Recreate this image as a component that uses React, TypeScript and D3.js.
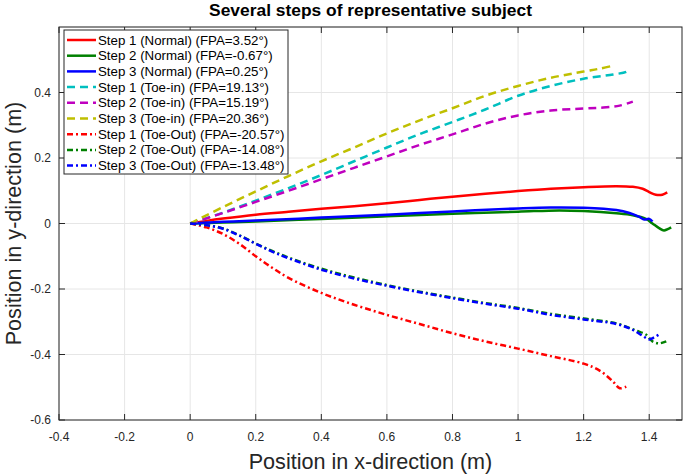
import * as d3 from "d3";

// x / y positions (m), one pair of arrays per step
const n1X = [0, 0.05, 0.1, 0.2, 0.3, 0.4, 0.5, 0.6, 0.7, 0.8, 0.9, 1.0, 1.1, 1.2, 1.3, 1.35, 1.38, 1.4, 1.42, 1.44, 1.455];
const n1Y = [0, 0.008, 0.015, 0.027, 0.036, 0.045, 0.053, 0.062, 0.072, 0.082, 0.091, 0.099, 0.106, 0.111, 0.114, 0.112, 0.106, 0.096, 0.088, 0.088, 0.095];
const n2X = [0, 0.1, 0.2, 0.4, 0.6, 0.8, 1.0, 1.125, 1.2, 1.3, 1.35, 1.39, 1.41, 1.43, 1.445, 1.467];
const n2Y = [0, 0.003, 0.006, 0.014, 0.022, 0.03, 0.036, 0.04, 0.038, 0.031, 0.025, 0.014, 0.0, -0.014, -0.021, -0.012];
const n3X = [0, 0.1, 0.2, 0.4, 0.6, 0.8, 1.0, 1.1, 1.2, 1.3, 1.34, 1.37, 1.385, 1.4, 1.41];
const n3Y = [0, 0.005, 0.009, 0.018, 0.027, 0.037, 0.046, 0.049, 0.048, 0.041, 0.032, 0.02, 0.012, 0.014, 0.006];

const i1X = [0, 0.1, 0.2, 0.3, 0.4, 0.5, 0.6, 0.7, 0.8, 0.9, 1.0, 1.1, 1.2, 1.29, 1.33, 1.34];
const i1Y = [0, 0.033, 0.07, 0.108, 0.148, 0.19, 0.232, 0.273, 0.31, 0.348, 0.39, 0.42, 0.442, 0.455, 0.463, 0.47];
const i2X = [0, 0.1, 0.2, 0.3, 0.4, 0.5, 0.6, 0.7, 0.8, 0.9, 1.0, 1.1, 1.2, 1.26, 1.31, 1.35];
const i2Y = [0, 0.032, 0.066, 0.1, 0.135, 0.17, 0.205, 0.24, 0.272, 0.305, 0.33, 0.345, 0.351, 0.354, 0.36, 0.372];
const i3X = [0, 0.1, 0.2, 0.3, 0.4, 0.5, 0.6, 0.7, 0.8, 0.9, 1.0, 1.1, 1.2, 1.25, 1.29];
const i3Y = [0, 0.05, 0.098, 0.145, 0.19, 0.232, 0.275, 0.315, 0.352, 0.39, 0.42, 0.445, 0.464, 0.473, 0.482];

const o1X = [0, 0.05, 0.1, 0.15, 0.2, 0.25, 0.3, 0.4, 0.5, 0.6, 0.7, 0.8, 0.9, 1.0, 1.1, 1.2, 1.25, 1.29, 1.31, 1.33];
const o1Y = [0, -0.012, -0.032, -0.062, -0.1, -0.135, -0.166, -0.212, -0.248, -0.279, -0.307, -0.335, -0.36, -0.382, -0.405, -0.428, -0.45, -0.483, -0.503, -0.498];
const o2X = [0, 0.05, 0.1, 0.15, 0.2, 0.25, 0.3, 0.4, 0.5, 0.6, 0.7, 0.8, 0.9, 1.0, 1.1, 1.2, 1.3, 1.36, 1.39, 1.41, 1.43, 1.452];
const o2Y = [0, -0.005, -0.015, -0.036, -0.061, -0.084, -0.104, -0.138, -0.165, -0.188, -0.208, -0.226, -0.243, -0.258, -0.276, -0.29, -0.305, -0.327, -0.339, -0.36, -0.366, -0.36];
const o3X = [0, 0.05, 0.1, 0.15, 0.2, 0.25, 0.3, 0.4, 0.5, 0.6, 0.7, 0.8, 0.9, 1.0, 1.1, 1.2, 1.3, 1.35, 1.38, 1.4, 1.415, 1.43];
const o3Y = [0, -0.005, -0.016, -0.037, -0.062, -0.086, -0.106, -0.141, -0.168, -0.19, -0.21, -0.228, -0.245, -0.26, -0.279, -0.293, -0.307, -0.325, -0.343, -0.354, -0.348, -0.339];

const labels = [
  "Step 1 (Normal) (FPA=3.52°)",
  "Step 2 (Normal) (FPA=-0.67°)",
  "Step 3 (Normal) (FPA=0.25°)",
  "Step 1 (Toe-in) (FPA=19.13°)",
  "Step 2 (Toe-in) (FPA=15.19°)",
  "Step 3 (Toe-in) (FPA=20.36°)",
  "Step 1 (Toe-Out) (FPA=-20.57°)",
  "Step 2 (Toe-Out) (FPA=-14.08°)",
  "Step 3 (Toe-Out) (FPA=-13.48°)",
];
const xTicks = [-0.4, -0.2, 0, 0.2, 0.4, 0.6, 0.8, 1, 1.2, 1.4];
const yTicks = [-0.6, -0.4, -0.2, 0, 0.2, 0.4];

const colors = ["#ff0000", "#008000", "#0000ff", "#00bfbf", "#bf00bf", "#bfbf00", "#ff0000", "#008000", "#0000ff"];
const dashes = ["none", "none", "none", "8,5", "8,5", "8,5", "6,3,2,3", "6,3,2,3", "6,3,2,3"];

const series = [
  [n1X, n1Y], [n2X, n2Y], [n3X, n3Y],
  [i1X, i1Y], [i2X, i2Y], [i3X, i3Y],
  [o1X, o1Y], [o2X, o2Y], [o3X, o3Y],
];

const W = 685;
const H = 474;
const m = { left: 59, right: 3, top: 27, bottom: 54 };
const font = "'Liberation Sans', Arial, Helvetica, sans-serif";

export default function App() {
  const x = d3.scaleLinear().domain([-0.4, 1.5]).range([m.left, W - m.right]);
  const y = d3.scaleLinear().domain([-0.6, 0.6]).range([H - m.bottom, m.top]);

  const line = d3
    .line<[number, number]>()
    .x((d) => x(d[0]))
    .y((d) => y(d[1]))
    .curve(d3.curveCatmullRom);

  const x0 = m.left;
  const x1 = W - m.right;
  const y0 = H - m.bottom;
  const y1 = m.top;
  const tickLen = 6;

  const legX = 64;
  const legY = 30;
  const rowH = 15.7;

  return (
    <svg
      width={W}
      height={H}
      style={{ position: "absolute", left: 0, top: 0, background: "#fff" }}
      fontFamily={font}
    >
      {/* grid */}
      {xTicks.map((t) => (
        <line key={"gx" + t} x1={x(t)} x2={x(t)} y1={y0} y2={y1} stroke="#e6e6e6" strokeWidth={1} />
      ))}
      {[...yTicks, 0.6].map((t) => (
        <line key={"gy" + t} x1={x0} x2={x1} y1={y(t)} y2={y(t)} stroke="#e6e6e6" strokeWidth={1} />
      ))}

      {/* series */}
      {series.map(([xs, ys], i) => (
        <path
          key={i}
          d={line(xs.map((v, j) => [v, ys[j]] as [number, number])) ?? ""}
          fill="none"
          stroke={colors[i]}
          strokeWidth={2.5}
          strokeDasharray={dashes[i]}
        />
      ))}

      {/* box and ticks */}
      <rect x={x0} y={y1} width={x1 - x0} height={y0 - y1} fill="none" stroke="#262626" strokeWidth={1} />
      {xTicks.map((t) => (
        <g key={"tx" + t}>
          <line x1={x(t)} x2={x(t)} y1={y0} y2={y0 - tickLen} stroke="#262626" />
          <line x1={x(t)} x2={x(t)} y1={y1} y2={y1 + tickLen} stroke="#262626" />
          <text x={x(t)} y={y0 + 21} textAnchor="middle" fontSize={12} fill="#262626">
            {t}
          </text>
        </g>
      ))}
      {yTicks.map((t) => (
        <g key={"ty" + t}>
          <line x1={x0} x2={x0 + tickLen} y1={y(t)} y2={y(t)} stroke="#262626" />
          <line x1={x1} x2={x1 - tickLen} y1={y(t)} y2={y(t)} stroke="#262626" />
          <text x={x0 - 8} y={y(t) + 4} textAnchor="end" fontSize={12} fill="#262626">
            {t}
          </text>
        </g>
      ))}

      {/* titles */}
      <text x={(x0 + x1) / 2} y={16} textAnchor="middle" fontSize={17.4} fontWeight="bold" fill="#000">
        Several steps of representative subject
      </text>
      <text x={(x0 + x1) / 2} y={469} textAnchor="middle" fontSize={21.6} fill="#262626">
        Position in x-direction (m)
      </text>
      <text
        transform={`translate(21, ${(y0 + y1) / 2}) rotate(-90)`}
        textAnchor="middle"
        fontSize={21.6}
        fill="#262626"
      >
        Position in y-direction (m)
      </text>

      {/* legend */}
      <rect x={legX} y={legY} width={224} height={144} fill="#fff" stroke="#262626" strokeWidth={1} />
      {labels.map((l, i) => {
        const yy = legY + 10 + i * rowH;
        return (
          <g key={l}>
            <line x1={legX + 3} x2={legX + 32} y1={yy} y2={yy} stroke={colors[i]} strokeWidth={2.5} strokeDasharray={dashes[i]} />
            <text x={legX + 34} y={yy + 4.5} fontSize={13.3} fill="#000">
              {l}
            </text>
          </g>
        );
      })}
    </svg>
  );
}
